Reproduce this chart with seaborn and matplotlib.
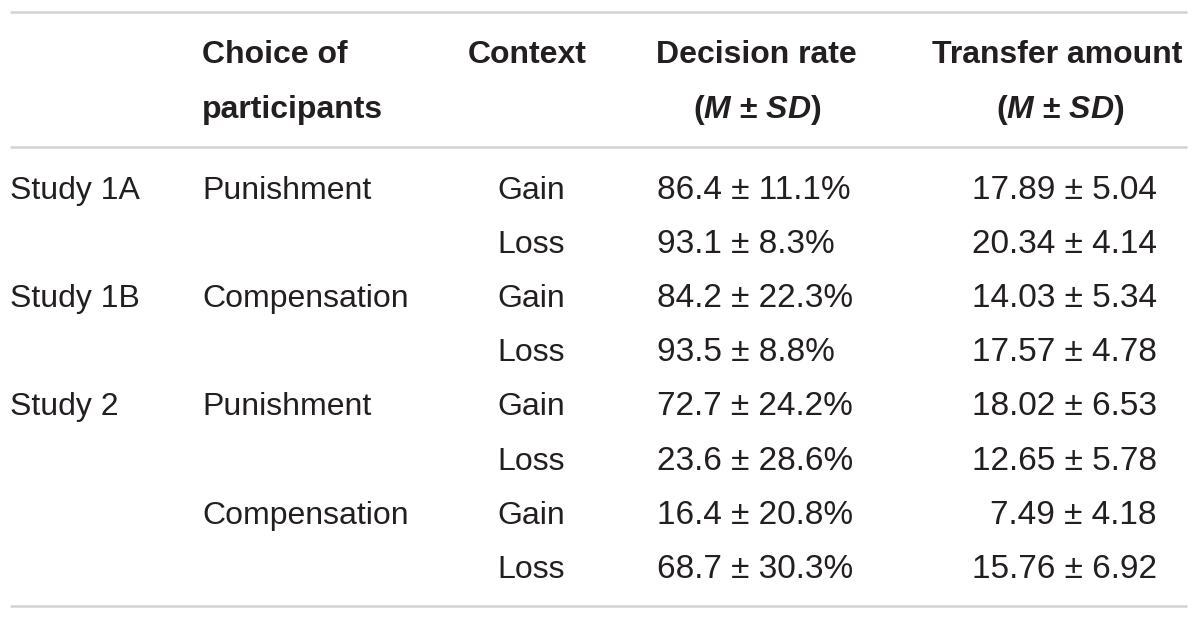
import matplotlib
matplotlib.use("Agg")
import matplotlib.pyplot as plt
import seaborn as sns
import pandas as pd

# Dados da tabela
study = ["Study 1A", "", "Study 1B", "", "Study 2", "", "", ""]
choice = ["Punishment", "", "Compensation", "", "Punishment", "", "Compensation", ""]
context = ["Gain", "Loss", "Gain", "Loss", "Gain", "Loss", "Gain", "Loss"]
decision_m = [86.4, 93.1, 84.2, 93.5, 72.7, 23.6, 16.4, 68.7]
decision_sd = [11.1, 8.3, 22.3, 8.8, 24.2, 28.6, 20.8, 30.3]
transfer_m = [17.89, 20.34, 14.03, 17.57, 18.02, 12.65, 7.49, 15.76]
transfer_sd = [5.04, 4.14, 5.34, 4.78, 6.53, 5.78, 4.18, 6.92]

df = pd.DataFrame({
    "study": study,
    "choice": choice,
    "context": context,
    "decision": [f"{m:.1f} \u00b1 {s:.1f}%" for m, s in zip(decision_m, decision_sd)],
    "transfer": [f"{m:.2f} \u00b1 {s:.2f}" for m, s in zip(transfer_m, transfer_sd)],
})

sns.set_theme(style="white")
plt.rcParams['font.family'] = ['Liberation Sans', 'DejaVu Sans']
plt.rcParams['mathtext.fontset'] = 'custom'
plt.rcParams['mathtext.bfit'] = 'Liberation Sans:italic:bold'
plt.rcParams['mathtext.it'] = 'Liberation Sans:italic'
plt.rcParams['mathtext.rm'] = 'Liberation Sans'
plt.rcParams['mathtext.bf'] = 'Liberation Sans:bold'

fig = plt.figure(figsize=(12, 6.2), dpi=100)
ax = fig.add_axes([0, 0, 1, 1])
ax.set_xlim(0, 1200)
ax.set_ylim(620, 0)
ax.axis("off")

txt = "#231f20"
fs = 23
fs_num = 24
line_c = "#d2d2d2"

# linhas horizontais
for y in [12, 147, 606]:
    ax.plot([10, 1187], [y, y], color=line_c, lw=1.8, solid_capstyle="butt")

# cabeçalho
hb = [63, 118]
ax.text(202, hb[0], "Choice of", fontsize=fs, fontweight="bold", color=txt, va="baseline")
ax.text(202, hb[1], "participants", fontsize=fs, fontweight="bold", color=txt, va="baseline")
ax.text(468, hb[0], "Context", fontsize=fs, fontweight="bold", color=txt, va="baseline")
ax.text(756, hb[0], "Decision rate", fontsize=fs, fontweight="bold", color=txt, va="baseline", ha="center")
ax.text(757, hb[1], r"($\mathbfit{M}$ $\mathbf{\pm}$ $\mathbfit{SD}$)", fontsize=fs, fontweight="bold",
        color=txt, va="baseline", ha="center")
ax.text(1057, hb[0], "Transfer amount", fontsize=fs, fontweight="bold", color=txt, va="baseline", ha="center")
ax.text(1060, hb[1], r"($\mathbfit{M}$ $\mathbf{\pm}$ $\mathbfit{SD}$)", fontsize=fs, fontweight="bold",
        color=txt, va="baseline", ha="center")

# linhas de dados
first = 199
step = 54.1
for i, row in df.iterrows():
    y = first + i * step
    ax.text(10, y, row["study"], fontsize=fs, color=txt, va="baseline")
    ax.text(202, y, row["choice"], fontsize=fs, color=txt, va="baseline")
    ax.text(531, y, row["context"], fontsize=fs, color=txt, va="baseline", ha="center")
    ax.text(657, y, row["decision"], fontsize=fs_num, color=txt, va="baseline")
    ax.text(1157, y, row["transfer"], fontsize=fs_num, color=txt, va="baseline", ha="right")

fig.savefig("out.png", dpi=100)
